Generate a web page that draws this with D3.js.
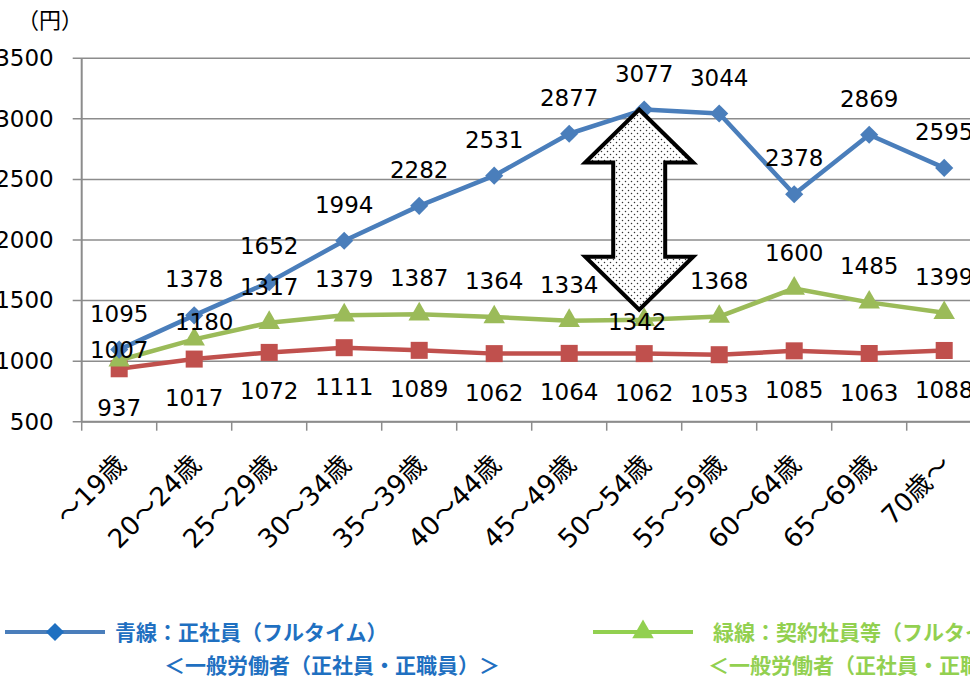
<!DOCTYPE html>
<html>
<head>
<meta charset="utf-8">
<script src="https://cdn.jsdelivr.net/npm/d3@7"></script>
<style>
  body { margin: 0; background: #fff; }
  svg { display: block; }
</style>
</head>
<body>
<div id="chart"></div>
<script>
// categories (age groups)
const categories = ['～19歳', '20～24歳', '25～29歳', '30～34歳', '35～39歳', '40～44歳',
  '45～49歳', '50～54歳', '55～59歳', '60～64歳', '65～69歳', '70歳～'];

// blue: full-time regular employees
const blueValues = [1095, 1378, 1652, 1994, 2282, 2531, 2877, 3077, 3044, 2378, 2869, 2595];
// green: contract employees etc.
const greenValues = [1007, 1180, 1317, 1379, 1387, 1364, 1334, 1342, 1368, 1600, 1485, 1399];
// red
const redValues = [937, 1017, 1072, 1111, 1089, 1062, 1064, 1062, 1053, 1085, 1063, 1088];

const yTicks = [500, 1000, 1500, 2000, 2500, 3000, 3500];

const W = 970, H = 678;
const plotLeft = 81.7, plotRight = 981.7, plotTop = 58.3, plotBottom = 421.7;

const svg = d3.select('#chart')
  .append('svg')
    .attr('width', W)
    .attr('height', H);

const numFont = '"DejaVu Sans", "Noto Sans CJK JP", sans-serif';
const jpFont = '"Noto Sans CJK JP", sans-serif';

// dotted fill for the arrow
const pat = svg.append('defs').append('pattern')
    .attr('id', 'dots')
    .attr('patternUnits', 'userSpaceOnUse')
    .attr('width', 6).attr('height', 6);
pat.append('rect').attr('width', 6).attr('height', 6).attr('fill', '#fff');
pat.append('circle').attr('cx', 1.5).attr('cy', 1.5).attr('r', 0.75).attr('fill', '#333');
pat.append('circle').attr('cx', 4.5).attr('cy', 4.5).attr('r', 0.75).attr('fill', '#333');

// scales
const x = d3.scaleBand()
  .domain(categories)
  .range([plotLeft, plotRight]);

const y = d3.scaleLinear()
  .domain([500, 3500])
  .range([plotBottom, plotTop]);

const cx = d => x(d) + x.bandwidth() / 2;

// grid lines
svg.append('g')
  .selectAll('line')
  .data(yTicks)
  .join('line')
    .attr('x1', plotLeft - 9)
    .attr('x2', plotRight)
    .attr('y1', d => y(d))
    .attr('y2', d => y(d))
    .attr('stroke', '#8c8c8c')
    .attr('stroke-width', 1.5);

// vertical axis line
svg.append('line')
  .attr('x1', plotLeft).attr('x2', plotLeft)
  .attr('y1', plotTop).attr('y2', plotBottom)
  .attr('stroke', '#8c8c8c')
  .attr('stroke-width', 2);

// x axis boundary ticks
svg.append('g')
  .selectAll('line')
  .data(d3.range(categories.length + 1))
  .join('line')
    .attr('x1', i => plotLeft + i * x.step())
    .attr('x2', i => plotLeft + i * x.step())
    .attr('y1', plotBottom)
    .attr('y2', plotBottom + 9)
    .attr('stroke', '#8c8c8c')
    .attr('stroke-width', 1.5);

svg.append('line')
  .attr('x1', plotLeft).attr('x2', plotRight)
  .attr('y1', plotBottom).attr('y2', plotBottom)
  .attr('stroke', '#8c8c8c')
  .attr('stroke-width', 2);

// y axis labels
svg.append('g')
  .attr('transform', `translate(${plotLeft},0)`)
  .call(d3.axisLeft(y).tickValues(yTicks).tickFormat(d3.format('d')).tickSize(0).tickPadding(28))
  .call(g => g.select('.domain').remove())
  .call(g => g.selectAll('text')
    .attr('font-family', numFont)
    .attr('font-size', 23)
    .attr('fill', '#000'));

// unit label
svg.append('text')
  .attr('x', 17).attr('y', 28)
  .attr('font-family', jpFont)
  .attr('font-size', 22)
  .text('（円）');

// x axis labels, rotated
svg.append('g')
  .selectAll('text')
  .data(categories)
  .join('text')
    .attr('transform', d => `translate(${cx(d) + 2},${plotBottom + 38}) rotate(-45)`)
    .attr('text-anchor', 'end')
    .attr('dy', '0.35em')
    .attr('font-family', numFont)
    .attr('font-size', 26)
    .text(d => d);

// series
const series = [
  { name: 'red', values: redValues, color: '#C0504D', marker: 'square', labelDy: 39 },
  { name: 'green', values: greenValues, color: '#9BBB59', marker: 'triangle', labelDy: -36,
    adjust: { 0: [0, 26], 1: [10, 19], 7: [-7, 38] } },
  { name: 'blue', values: blueValues, color: '#4A7EBB', marker: 'diamond', labelDy: -36 }
];

const line = d3.line()
  .x((d, i) => cx(categories[i]))
  .y(d => y(d));

const symbols = {
  square: d3.symbol().type(d3.symbolSquare).size(290),
  triangle: d3.symbol().type(d3.symbolTriangle).size(200),
  diamond: d3.symbol().type(d3.symbolSquare).size(165)
};
const rot = m => m === 'diamond' ? ' rotate(45)' : '';

series.forEach(s => {
  const g = svg.append('g');
  g.append('path')
    .attr('d', line(s.values))
    .attr('fill', 'none')
    .attr('stroke', s.color)
    .attr('stroke-width', 4.5)
    .attr('stroke-linejoin', 'round');
  g.selectAll('path.m')
    .data(s.values)
    .join('path')
      .attr('class', 'm')
      .attr('transform', (d, i) => `translate(${cx(categories[i])},${y(d)})` + rot(s.marker))
      .attr('d', symbols[s.marker]())
      .attr('fill', s.color);
});

// arrow between blue and green at 50～54
const ai = 7;
const ax = cx(categories[ai]) - 5;
const aTop = y(blueValues[ai]);
const aBot = y(greenValues[ai]) - 10;
const headH = 53, headW = 54, shaftW = 26;
const arrowPts = [
  [ax, aTop],
  [ax + headW, aTop + headH],
  [ax + shaftW, aTop + headH],
  [ax + shaftW, aBot - headH],
  [ax + headW, aBot - headH],
  [ax, aBot],
  [ax - headW, aBot - headH],
  [ax - shaftW, aBot - headH],
  [ax - shaftW, aTop + headH],
  [ax - headW, aTop + headH]
];
svg.append('path')
  .attr('d', 'M' + arrowPts.map(p => p.join(',')).join('L') + 'Z')
  .attr('fill', 'url(#dots)')
  .attr('stroke', '#000')
  .attr('stroke-width', 4)
  .attr('stroke-linejoin', 'miter');

// data labels
series.forEach(s => {
  svg.append('g')
    .selectAll('text')
    .data(s.values)
    .join('text')
      .attr('x', (d, i) => cx(categories[i]) + (s.adjust && s.adjust[i] ? s.adjust[i][0] : 0))
      .attr('y', (d, i) => y(d) + (s.adjust && s.adjust[i] ? s.labelDy + s.adjust[i][1] : s.labelDy))
      .attr('dy', '0.35em')
      .attr('text-anchor', 'middle')
      .attr('font-family', numFont)
      .attr('font-size', 23)
      .attr('fill', '#000')
      .text(d => d);
});

// legend
const legend = [
  { color: '#4A7EBB', text: '#1F70C1', marker: 'diamond', x: 5,
    lines: ['青線：正社員（フルタイム）', '＜一般労働者（正社員・正職員）＞'], tx: [115, 164] },
  { color: '#92D050', text: '#92D050', marker: 'triangle', x: 593,
    lines: ['緑線：契約社員等（フルタイム）', '＜一般労働者（正社員・正職員以外）＞'], tx: [713, 708] }
];

legend.forEach(l => {
  const g = svg.append('g');
  g.append('line')
    .attr('x1', l.x).attr('x2', l.x + 100)
    .attr('y1', 632).attr('y2', 632)
    .attr('stroke', l.color)
    .attr('stroke-width', 4);
  g.append('path')
    .attr('transform', `translate(${l.x + 50},632)` + rot(l.marker))
    .attr('d', symbols[l.marker]())
    .attr('fill', l.marker === 'diamond' ? '#1F70C1' : l.color);
  l.lines.forEach((t, i) => {
    g.append('text')
      .attr('x', l.tx[i])
      .attr('y', 632 + i * 33)
      .attr('dy', '0.36em')
      .attr('font-family', jpFont)
      .attr('font-weight', 'bold')
      .attr('font-size', 21)
      .attr('fill', l.text)
      .text(t);
  });
});
</script>
</body>
</html>
